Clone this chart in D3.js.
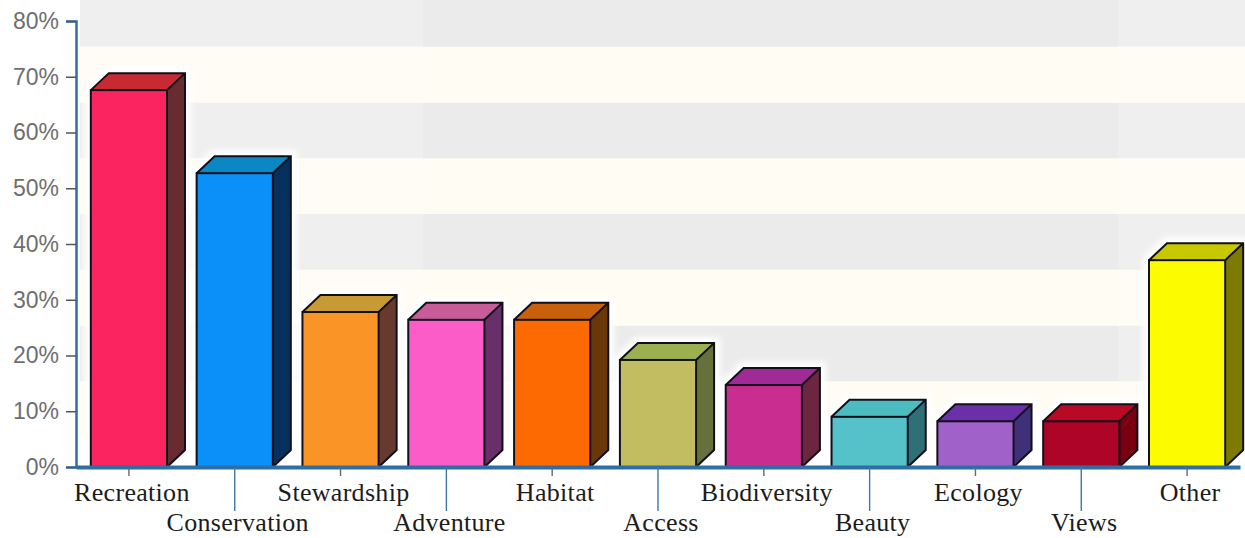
<!DOCTYPE html>
<html>
<head>
<meta charset="utf-8">
<script src="https://cdn.jsdelivr.net/npm/d3@7"></script>
<style>
html, body { margin: 0; padding: 0; background: #fff; }
svg { display: block; }
</style>
</head>
<body>
<svg id="chart" width="1245" height="538"></svg>
<script>
const categories = ["Recreation", "Conservation", "Stewardship", "Adventure", "Habitat", "Access", "Biodiversity", "Beauty", "Ecology", "Views", "Other"];
const percents = [67.6, 52.7, 27.8, 26.4, 26.4, 19.2, 14.7, 9, 8.2, 8.2, 37.1];
const frontColors = ["#fb2360", "#0a90f8", "#fb9427", "#fb5cc8", "#fd6a02", "#c3bd62", "#c92d90", "#55c1c8", "#a061c8", "#ad0427", "#fdfb00"];
const topColors = ["#c82a34", "#0b87c4", "#c89a36", "#c85c9a", "#c8600c", "#9cb050", "#a02a96", "#4cbcc0", "#6a30a8", "#b80a24", "#c8c800"];
const sideColors = ["#672b30", "#06315f", "#673a30", "#673068", "#6a3808", "#66703a", "#6c2640", "#2f7078", "#40307a", "#780010", "#7d7a00"];
const yTicks = [0, 10, 20, 30, 40, 50, 60, 70, 80];
const tallTicks = [1, 3, 5, 7, 9]; // every second label sits on the lower row

const margin = { top: 21, bottom: 71, left: 76, right: 5 };
const width = 1245, height = 538;
const depthX = 18, depthY = 17;
const bandShift = 30;

const svg = d3.select("#chart");

const defs = svg.append("defs");
defs.append("filter").attr("id", "soft")
    .attr("x", "-20%").attr("y", "-20%").attr("width", "140%").attr("height", "140%")
    .append("feGaussianBlur").attr("stdDeviation", 3);

const x = d3.scaleBand()
    .domain(categories)
    .range([margin.left, width - margin.right])
    .paddingInner(0.28)
    .paddingOuter(0.14);

const y = d3.scaleLinear()
    .domain([0, 80])
    .range([height - margin.bottom, margin.top]);

// wall stripes, they sit higher than the ticks because of the 3d depth
const wall = svg.append("g");
yTicks.slice(0, -1).forEach(function (t, i) {
    const isGrey = i % 2 == 1;
    const top = Math.max(0, y(t + 10) - bandShift);
    const bottom = y(t) - bandShift;
    wall.append("rect")
        .attr("x", margin.left + 4).attr("y", top)
        .attr("width", width - margin.left - 4).attr("height", bottom - top)
        .attr("fill", isGrey ? "#ebebeb" : "#fffcf3");
});
wall.append("rect")
    .attr("x", margin.left).attr("y", y(0) - bandShift)
    .attr("width", width - margin.left).attr("height", bandShift)
    .attr("fill", "#ffffff");
// the two ends of the wall are washed out in the source
wall.append("rect")
    .attr("x", margin.left).attr("y", 0).attr("width", 347).attr("height", y(0))
    .attr("fill", "#fff").attr("opacity", 0.2);
wall.append("rect")
    .attr("x", 1118).attr("y", 0).attr("width", 127).attr("height", y(0))
    .attr("fill", "#fff").attr("opacity", 0.2);

function barTop(i) { return y(percents[i]); }

function outline(d, i) {
    const l = x(d), r = l + x.bandwidth(), t = barTop(i), b = y(0);
    return "M" + l + "," + t + "L" + (l + depthX) + "," + (t - depthY) + "L" + (r + depthX) + "," + (t - depthY) + "L" + (r + depthX) + "," + (b - depthY) + "L" + r + "," + b + "L" + l + "," + b + "Z";
}

// pale halo round each bar
svg.append("g").selectAll("path")
    .data(categories)
    .join("path")
    .attr("d", outline)
    .attr("fill", "#fff")
    .attr("stroke", "#fff")
    .attr("stroke-width", 12)
    .attr("filter", "url(#soft)");

const bars = svg.append("g").selectAll("g")
    .data(categories)
    .join("g");

bars.append("path")
    .attr("d", function (d, i) {
        const l = x(d), r = l + x.bandwidth(), t = barTop(i);
        return "M" + l + "," + t + "L" + (l + depthX) + "," + (t - depthY) + "L" + (r + depthX) + "," + (t - depthY) + "L" + r + "," + t + "Z";
    })
    .attr("fill", function (d, i) { return topColors[i]; });

bars.append("path")
    .attr("d", function (d, i) {
        const r = x(d) + x.bandwidth(), t = barTop(i), b = y(0);
        return "M" + r + "," + t + "L" + (r + depthX) + "," + (t - depthY) + "L" + (r + depthX) + "," + (b - depthY) + "L" + r + "," + b + "Z";
    })
    .attr("fill", function (d, i) { return sideColors[i]; });

bars.append("path")
    .attr("d", function (d, i) {
        const r = x(d) + x.bandwidth(), t = barTop(i);
        return "M" + (x(d)) + "," + t + "L" + (x(d) + depthX) + "," + (t - depthY) + "L" + (r + depthX) + "," + (t - depthY) + "L" + (r + depthX) + "," + (y(0) - depthY) + "L" + r + "," + y(0) + "M" + r + "," + t + "L" + (r + depthX) + "," + (t - depthY);
    })
    .attr("fill", "none")
    .attr("stroke", "#10101a")
    .attr("stroke-width", 2);

bars.append("rect")
    .attr("x", function (d) { return x(d); })
    .attr("y", function (d, i) { return barTop(i); })
    .attr("width", x.bandwidth())
    .attr("height", function (d, i) { return y(0) - barTop(i); })
    .attr("fill", function (d, i) { return frontColors[i]; })
    .attr("stroke", "#10101a")
    .attr("stroke-width", 2);

// y axis
const yAxis = svg.append("g")
    .attr("transform", "translate(" + margin.left + ",0)")
    .call(d3.axisLeft(y).tickValues(yTicks).tickFormat(function (d) { return d + "%"; }).tickSize(10).tickPadding(7));
yAxis.select(".domain").attr("stroke", "#2f6ea5").attr("stroke-width", 2.5);
yAxis.selectAll(".tick line").attr("stroke", "#555").attr("stroke-width", 1.5);
yAxis.selectAll("text")
    .attr("fill", "#6e6e6e")
    .style("font-family", "'Liberation Sans', sans-serif")
    .style("font-size", "23px");

// x axis, two rows of labels
const xAxis = svg.append("g")
    .attr("transform", "translate(0," + y(0) + ")")
    .call(d3.axisBottom(x).tickSize(0).tickPadding(0));
xAxis.select(".domain").attr("stroke", "#2f6ea5").attr("stroke-width", 4);
xAxis.selectAll(".tick line")
    .attr("stroke", function (d, i) { return tallTicks.includes(i) ? "#3f77a8" : "#667"; })
    .attr("stroke-width", 1.4)
    .attr("y2", function (d, i) { return tallTicks.includes(i) ? 44 : 9; });
xAxis.selectAll("text")
    .attr("x", 3)
    .attr("y", function (d, i) { return tallTicks.includes(i) ? 64 : 34; })
    .attr("dy", 0)
    .attr("fill", "#1c1c1c")
    .style("font-family", "'Liberation Serif', serif")
    .style("font-size", "26px")
    .style("letter-spacing", "0.3px");
</script>
</body>
</html>
